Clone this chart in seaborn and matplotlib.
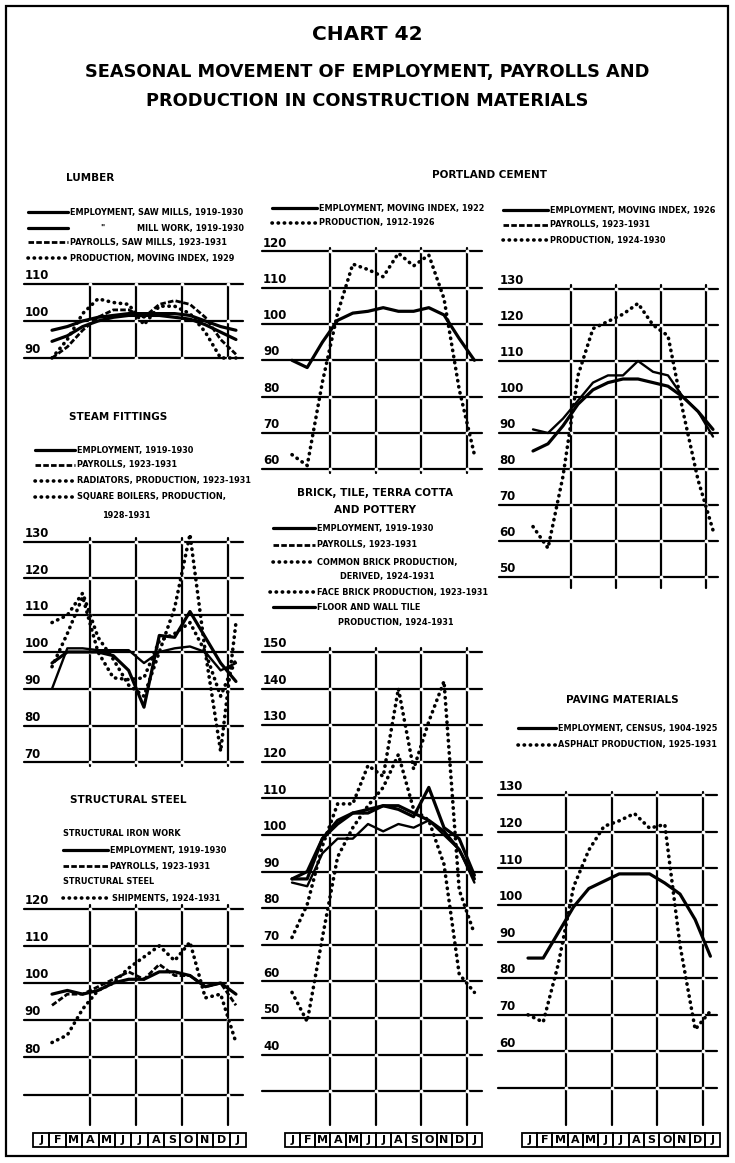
import numpy as np
import pandas as pd
import matplotlib
matplotlib.use("Agg")
import matplotlib.pyplot as plt
from matplotlib.patches import Rectangle
import seaborn as sns

W, H = 735, 1163
months = list(range(13))
month_letters = ["J", "F", "M", "A", "M", "J", "J", "A", "S", "O", "N", "D", "J"]

# --- data (index numbers, Jan .. following Jan) ---
lumber_emp_saw = [97.5, 98.5, 100, 101, 101.5, 102, 102, 102, 102, 101.5, 100, 98.5, 97.5]
lumber_emp_mill = [94.5, 96, 98.5, 100, 101, 101.5, 101.5, 101.5, 101, 100.5, 99, 97, 95]
lumber_pay_saw = [90, 93, 97.5, 101, 103, 103, 101, 104.5, 105.5, 104.5, 101, 95, 91]
lumber_prod = [90, 95, 102, 106, 105, 104.5, 99, 104, 104, 102, 97, 90, 90]

steam_emp = [90, 101, 101, 100.5, 100.5, 100.5, 97, 100, 101, 101.5, 100, 95, 97]
steam_pay = [97, 100, 100, 100, 99, 95, 85, 104.5, 104, 111, 104, 97, 92]
steam_radiators = [96, 105, 115, 100, 93, 92.5, 93, 103, 105, 108, 100, 88, 98]
steam_boilers = [108, 110, 116, 104, 98, 91, 88, 100, 112, 132, 100, 73, 108]

steel_emp = [97, 98, 97, 98, 100, 101, 101, 103, 103, 102, 99, 100, 97]
steel_pay = [94, 97, 97, 99, 101, 103, 101, 105, 102, 102, 99, 100, 94]
steel_shipments = [84, 86, 93, 98, 100, 104, 107, 110, 106, 111, 96, 97, 84]

cement1_emp = [90, 88, 95, 101, 103, 103.5, 104.5, 103.5, 103.5, 104.5, 102.5, 96, 90]
cement1_prod = [64, 61, 84, 103, 116.5, 115, 113, 119.5, 116, 119, 107, 82, 64]

brick_emp = [88, 88, 99, 103, 106, 107, 108, 108, 106, 104, 101, 96, 88]
brick_pay = [87, 86, 95, 99, 99, 103, 101, 103, 102, 104, 100, 96, 87]
brick_common = [57, 49, 72, 94, 102, 108, 113, 122, 107, 104, 92, 62, 57]
brick_face = [72, 81, 97, 108.5, 108.5, 119, 116, 140, 118, 131, 142, 85, 73]
brick_tile = [88, 90, 99, 104, 106, 106, 108, 107, 105, 113, 102, 99, 89]

cement2_emp = [85, 87, 92, 98, 102, 104, 105, 105, 104, 103, 100, 96, 91]
cement2_pay = [91, 90, 94, 99, 104, 106, 106, 110, 107, 106, 100, 96, 89]
cement2_prod = [64, 58, 78, 106, 119, 121, 123, 126, 120, 117, 96, 77, 63]

paving_emp = [85.5, 85.5, 92.5, 99.5, 104.5, 106.5, 108.5, 108.5, 108.5, 106, 103, 96, 86]
paving_asphalt = [70, 68, 84, 105, 115, 121.5, 123, 125, 121, 122, 89, 66, 71]

SOLID = dict(linestyle="-", linewidth=2.3, solid_joinstyle="round")
THIN = dict(linestyle="-", linewidth=1.7, solid_joinstyle="round")
DASHED = dict(linestyle=(0, (2.0, 0.8)), linewidth=2.0)
DOTTED = dict(linestyle=(0, (0.1, 1.6)), linewidth=2.6, dash_capstyle="round")
LEG_FS = 5.9

sns.set_theme(style="white")
plt.rcParams["font.family"] = ["DejaVu Sans"]
plt.rcParams["font.weight"] = "bold"
plt.rcParams["text.color"] = "black"

fig = plt.figure(figsize=(W / 100, H / 100), dpi=100)
canvas = fig.add_axes([0, 0, 1, 1])
canvas.set_xlim(0, W)
canvas.set_ylim(H, 0)
canvas.axis("off")

canvas.add_patch(Rectangle((6, 6), 722, 1150, fill=False, ec="black", lw=1.6))
canvas.text(367, 34, "CHART 42", ha="center", va="center", fontsize=14.5, weight="bold")
canvas.text(367, 72, "SEASONAL MOVEMENT OF EMPLOYMENT, PAYROLLS AND",
            ha="center", va="center", fontsize=12.8, weight="bold")
canvas.text(367, 101, "PRODUCTION IN CONSTRUCTION MATERIALS",
            ha="center", va="center", fontsize=12.8, weight="bold")


def panel(x0, dx, y100, ppu, levels, labeled, vbot, vtop, lab_m, right_m):
    ymin, ymax = min(vbot, levels[-1]) - 2, max(vtop, levels[0]) + 4
    xmin, xmax = lab_m - 0.3, right_m + 0.3
    top_px = y100 - (ymax - 100) * ppu
    bot_px = y100 - (ymin - 100) * ppu
    ax = fig.add_axes([(x0 + xmin * dx) / W, 1 - bot_px / H,
                       (xmax - xmin) * dx / W, (bot_px - top_px) / H])
    ax.set_xlim(xmin, xmax)
    ax.set_ylim(ymin, ymax)
    ax.axis("off")
    ax.patch.set_alpha(0)
    for lv in levels:
        ax.plot([lab_m, right_m], [lv, lv], color="black", lw=1.6, zorder=1)
    vlines = [2.5, 5.5, 8.5, 11.5]
    for vx in vlines:
        ax.plot([vx, vx], [vbot, vtop], color="black", lw=1.6, zorder=1)
    gx, gy = np.meshgrid(vlines, levels)
    ax.scatter(gx.ravel(), gy.ravel(), s=7, color="white", linewidths=0, zorder=2)
    for lv in labeled:
        ax.text(lab_m + 0.05, lv + 0.5, str(lv), ha="left", va="bottom",
                fontsize=8.5, weight="bold")
    return ax


def draw(ax, values, style):
    df = pd.DataFrame({"month": months, "value": values})
    sns.lineplot(data=df, x="month", y="value", ax=ax, color="black",
                 zorder=4, clip_on=False, **style)
    ax.axis("off")


def legend_row(x0, x1, y, style, text, tx=None):
    canvas.plot([x0, x1], [y, y], color="black", **style)
    canvas.text(x1 + 2 if tx is None else tx, y, text, ha="left", va="center",
                fontsize=LEG_FS, weight="bold")


def month_strip(xl, xr, y=1140):
    w = (xr - xl) / 13
    for i, letter in enumerate(month_letters):
        canvas.add_patch(Rectangle((xl + i * w, y - 7), w, 14, fill=False,
                                   ec="black", lw=1.3))
        canvas.text(xl + (i + 0.5) * w, y, letter, ha="center", va="center",
                    fontsize=8, weight="bold")


# ---- LUMBER ----
canvas.text(90, 178, "LUMBER", ha="center", va="center", fontsize=7.5, weight="bold")
legend_row(28, 68, 212, SOLID, "EMPLOYMENT, SAW MILLS, 1919-1930")
legend_row(28, 68, 228, SOLID, "\"", tx=100)
canvas.text(137, 228, "MILL WORK, 1919-1930", ha="left", va="center", fontsize=LEG_FS, weight="bold")
legend_row(28, 68, 242, DASHED, "PAYROLLS, SAW MILLS, 1923-1931")
legend_row(28, 68, 258, DOTTED, "PRODUCTION, MOVING INDEX, 1929")
ax = panel(52, 15.33, 321, 3.7, [110, 100, 90], [110, 100, 90], 90, 110, -1.85, 12.45)
draw(ax, lumber_emp_saw, SOLID)
draw(ax, lumber_emp_mill, SOLID)
draw(ax, lumber_pay_saw, DASHED)
draw(ax, lumber_prod, DOTTED)

# ---- STEAM FITTINGS ----
canvas.text(118, 417, "STEAM FITTINGS", ha="center", va="center", fontsize=7.5, weight="bold")
legend_row(35, 75, 450, SOLID, "EMPLOYMENT, 1919-1930")
legend_row(35, 75, 465, DASHED, "PAYROLLS, 1923-1931")
legend_row(35, 75, 481, DOTTED, "RADIATORS, PRODUCTION, 1923-1931")
legend_row(35, 75, 497, DOTTED, "SQUARE BOILERS, PRODUCTION,")
canvas.text(126, 515, "1928-1931", ha="center", va="center", fontsize=LEG_FS, weight="bold")
ax = panel(52, 15.33, 652, 3.68, [130, 120, 110, 100, 90, 80, 70],
           [130, 120, 110, 100, 90, 80, 70], 69, 131, -1.85, 12.45)
draw(ax, steam_emp, THIN)
draw(ax, steam_pay, SOLID)
draw(ax, steam_radiators, DOTTED)
draw(ax, steam_boilers, DOTTED)

# ---- STRUCTURAL STEEL ----
canvas.text(128, 800, "STRUCTURAL STEEL", ha="center", va="center", fontsize=7.5, weight="bold")
canvas.text(63, 833, "STRUCTURAL IRON WORK", ha="left", va="center", fontsize=LEG_FS, weight="bold")
legend_row(63, 108, 850, SOLID, "EMPLOYMENT, 1919-1930")
legend_row(63, 108, 866, DASHED, "PAYROLLS, 1923-1931")
canvas.text(63, 882, "STRUCTURAL STEEL", ha="left", va="center", fontsize=LEG_FS, weight="bold")
legend_row(63, 108, 898, DOTTED, "SHIPMENTS, 1924-1931", tx=112)
ax = panel(52, 15.33, 983, 3.72, [120, 110, 100, 90, 80, 70],
           [120, 110, 100, 90, 80], 61.8, 121, -1.85, 12.45)
draw(ax, steel_emp, SOLID)
draw(ax, steel_pay, DASHED)
draw(ax, steel_shipments, DOTTED)
month_strip(33, 246)

# ---- PORTLAND CEMENT ----
canvas.text(490, 175, "PORTLAND CEMENT", ha="center", va="center", fontsize=7.5, weight="bold")
legend_row(272, 317, 208, SOLID, "EMPLOYMENT, MOVING INDEX, 1922")
legend_row(272, 317, 223, DOTTED, "PRODUCTION, 1912-1926")
ax = panel(292, 15.2, 324, 3.63, [120, 110, 100, 90, 80, 70, 60],
           [120, 110, 100, 90, 80, 70, 60], 59, 121, -1.95, 12.5)
draw(ax, cement1_emp, SOLID)
draw(ax, cement1_prod, DOTTED)

legend_row(503, 548, 210, SOLID, "EMPLOYMENT, MOVING INDEX, 1926")
legend_row(503, 548, 225, DASHED, "PAYROLLS, 1923-1931")
legend_row(503, 548, 240, DOTTED, "PRODUCTION, 1924-1930")
ax = panel(533, 15.0, 397, 3.6, [130, 120, 110, 100, 90, 80, 70, 60, 50],
           [130, 120, 110, 100, 90, 80, 70, 60, 50], 47, 131, -2.3, 12.3)
draw(ax, cement2_emp, SOLID)
draw(ax, cement2_pay, THIN)
draw(ax, cement2_prod, DOTTED)

# ---- BRICK, TILE, TERRA COTTA AND POTTERY ----
canvas.text(375, 493, "BRICK, TILE, TERRA COTTA", ha="center", va="center", fontsize=7.5, weight="bold")
canvas.text(375, 510, "AND POTTERY", ha="center", va="center", fontsize=7.5, weight="bold")
legend_row(273, 315, 528, SOLID, "EMPLOYMENT, 1919-1930")
legend_row(273, 315, 545, DASHED, "PAYROLLS, 1923-1931")
legend_row(273, 315, 562, DOTTED, "COMMON BRICK PRODUCTION,")
canvas.text(340, 576, "DERIVED, 1924-1931", ha="left", va="center", fontsize=LEG_FS, weight="bold")
legend_row(270, 315, 592, DOTTED, "FACE BRICK PRODUCTION, 1923-1931")
legend_row(273, 315, 607, SOLID, "FLOOR AND WALL TILE")
canvas.text(338, 622, "PRODUCTION, 1924-1931", ha="left", va="center", fontsize=LEG_FS, weight="bold")
ax = panel(292, 15.2, 835, 3.66, [150, 140, 130, 120, 110, 100, 90, 80, 70, 60, 50, 40, 30],
           [150, 140, 130, 120, 110, 100, 90, 80, 70, 60, 50, 40], 20.8, 151, -1.95, 12.5)
draw(ax, brick_emp, SOLID)
draw(ax, brick_pay, THIN)
draw(ax, brick_tile, SOLID)
draw(ax, brick_common, DOTTED)
draw(ax, brick_face, DOTTED)
month_strip(285, 482)

# ---- PAVING MATERIALS ----
canvas.text(622, 700, "PAVING MATERIALS", ha="center", va="center", fontsize=7.5, weight="bold")
legend_row(518, 556, 728, SOLID, "EMPLOYMENT, CENSUS, 1904-1925")
legend_row(518, 556, 745, DOTTED, "ASPHALT PRODUCTION, 1925-1931")
ax = panel(528, 15.2, 905, 3.66, [130, 120, 110, 100, 90, 80, 70, 60, 50],
           [130, 120, 110, 100, 90, 80, 70, 60], 39.9, 131, -1.95, 12.43)
draw(ax, paving_emp, SOLID)
draw(ax, paving_asphalt, DOTTED)
month_strip(522, 720)

fig.savefig("out.png", dpi=100, facecolor="white")
